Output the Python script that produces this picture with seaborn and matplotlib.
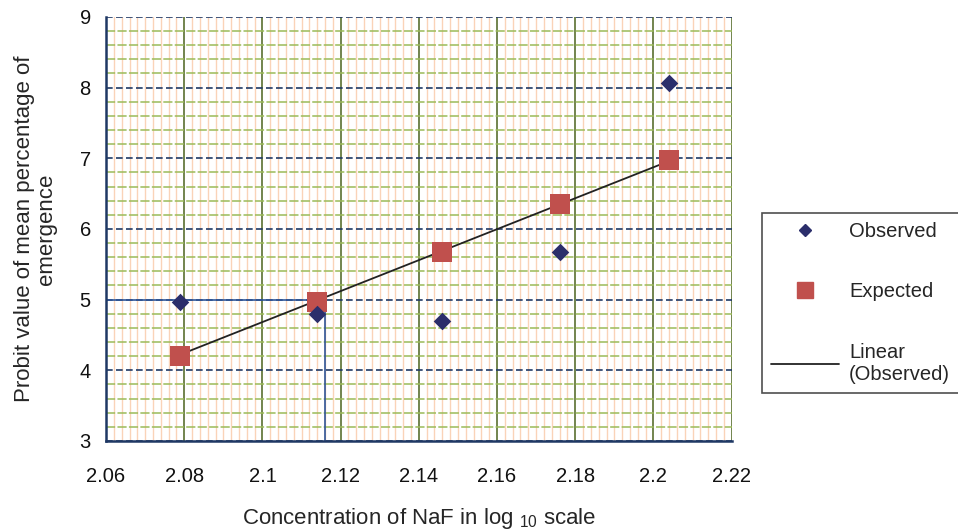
import numpy as np
import pandas as pd
import matplotlib
matplotlib.use("Agg")
import matplotlib.pyplot as plt
import seaborn as sns
from matplotlib.ticker import MultipleLocator
from matplotlib.lines import Line2D

# data
log_conc = [2.079, 2.114, 2.146, 2.176, 2.204]
observed = [4.97, 4.80, 4.70, 5.67, 8.07]
expected = [4.20, 4.97, 5.68, 6.35, 6.97]
ld50_x = 2.116
ld50_y = 5

df = pd.DataFrame({"x": log_conc, "observed": observed, "expected": expected})

sns.set_style("white")
plt.rcParams["font.family"] = ["Liberation Sans", "DejaVu Sans"]
plt.rcParams["mathtext.fontset"] = "custom"
plt.rcParams["mathtext.rm"] = "Liberation Sans"

fig = plt.figure(figsize=(9.58, 5.30), dpi=100)
ax = fig.add_axes([0.1107, 0.168, 0.653, 0.800])

navy = "#1F3864"
ax.set_xlim(2.06, 2.22)
ax.set_ylim(3, 9)
ax.xaxis.set_major_locator(MultipleLocator(0.02))
ax.xaxis.set_minor_locator(MultipleLocator(0.002))
ax.yaxis.set_major_locator(MultipleLocator(1))
ax.yaxis.set_minor_locator(MultipleLocator(0.2))

# grid: peach minor verticals, green dashed minor horizontals
ax.grid(which="minor", axis="x", color="#FAD3B8", lw=1.0)
ax.grid(which="minor", axis="y", color="#9BBB59", lw=1.1, ls=(0, (6, 1.5)))
ax.grid(which="major", axis="x", color="#5A7030", lw=1.2)
ax.grid(which="major", axis="y", color=navy, lw=1.2, ls=(0, (4, 2)))
ax.set_axisbelow(True)

# LD50 guide lines
ax.plot([2.06, ld50_x], [ld50_y, ld50_y], color="#2F5597", lw=1.2, zorder=2)
ax.plot([ld50_x, ld50_x], [3, ld50_y], color="#2F5597", lw=1.2, zorder=2)

sns.regplot(data=df, x="x", y="observed", scatter=False, ci=None, truncate=True,
            line_kws={"color": "#222222", "lw": 1.3, "zorder": 3}, ax=ax)
sns.scatterplot(data=df, x="x", y="expected", marker="s", s=190, color="#C0504D",
                edgecolor="#C0504D", linewidth=0, zorder=4, ax=ax)
sns.scatterplot(data=df, x="x", y="observed", marker="D", s=80, color="#2B2E6B",
                edgecolor="#2B2E6B", linewidth=0, zorder=5, ax=ax)

for side in ["top", "right"]:
    ax.spines[side].set_visible(False)
for side in ["left", "bottom"]:
    ax.spines[side].set_color(navy)
    ax.spines[side].set_linewidth(1.8)

ax.tick_params(which="major", direction="out", length=5, width=1.5, color=navy,
               labelsize=14.5, labelcolor="#111111", pad=6)
ax.tick_params(which="minor", length=0)
ax.tick_params(axis="x", pad=14)
ax.set_xticklabels([f"{v:g}" for v in np.round(ax.get_xticks(), 2)])

ax.set_xlabel("Concentration of NaF in log $_{\\rm 10}$ scale", fontsize=16, labelpad=14)
ax.set_ylabel("Probit value of mean percentage of\nemergence", fontsize=16,
              labelpad=16, linespacing=1.1)

handles = [
    Line2D([], [], marker="D", color="#2B2E6B", ls="none", markersize=6),
    Line2D([], [], marker="s", color="#C0504D", ls="none", markersize=11),
    Line2D([], [], color="#222222", lw=1.3),
]
leg = fig.legend(handles, ["Observed", "Expected", "Linear\n(Observed)"],
                 loc="upper left", bbox_to_anchor=(0.795, 0.598), fontsize=14.5,
                 frameon=True, fancybox=False, labelspacing=2.05, handlelength=3.4,
                 borderpad=0.45, handletextpad=0.5, borderaxespad=0)
leg.get_frame().set_edgecolor("#222222")
leg.get_frame().set_linewidth(1.2)

fig.savefig("out.png", dpi=100)
